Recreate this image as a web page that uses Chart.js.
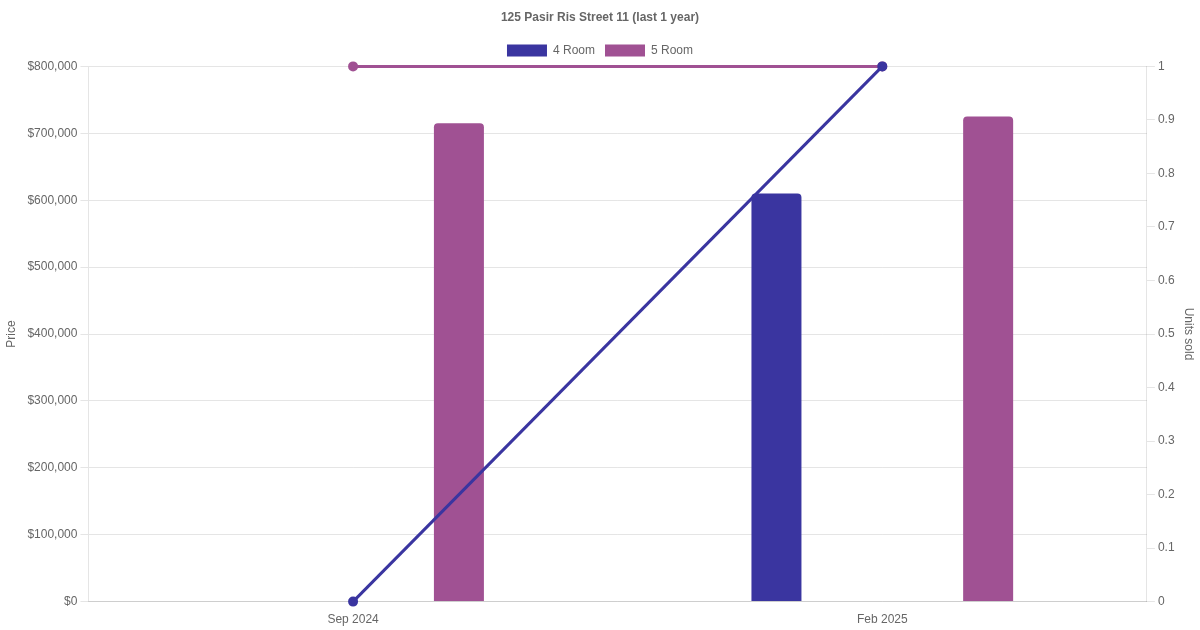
<!DOCTYPE html>
<html>
<head>
<meta charset="utf-8">
<script src="https://cdn.jsdelivr.net/npm/chart.js@4"></script>
<style>
html,body{margin:0;padding:0;background:#fff;}
#wrap{width:1200px;height:630px;}
</style>
</head>
<body>
<div id="wrap"><canvas id="c" width="1200" height="630"></canvas></div>
<script>
const categories = ["Sep 2024", "Feb 2025"];
const price4Room = [null, 610000];
const price5Room = [715000, 725000];
const units4Room = [0, 1];
const units5Room = [1, 1];
const color4 = "#3a35a0";
const color5 = "#a05193";

new Chart(document.getElementById('c'), {
  data: {
    labels: categories,
    datasets: [
      { type: 'line', label: '4 Room units', data: units4Room, yAxisID: 'y1', borderColor: color4, backgroundColor: color4, borderWidth: 3, pointRadius: 3.5, pointHoverRadius: 3.5, clip: false, order: 0 },
      { type: 'line', label: '5 Room units', data: units5Room, yAxisID: 'y1', borderColor: color5, backgroundColor: color5, borderWidth: 3, pointRadius: 3.5, pointHoverRadius: 3.5, clip: false, order: 1 },
      { type: 'bar', label: '4 Room', data: price4Room, yAxisID: 'y', backgroundColor: color4, borderColor: color4, borderRadius: 4, maxBarThickness: 50, order: 2 },
      { type: 'bar', label: '5 Room', data: price5Room, yAxisID: 'y', backgroundColor: color5, borderColor: color5, borderRadius: 4, maxBarThickness: 50, order: 3 }
    ]
  },
  options: {
    responsive: false,
    animation: false,
    plugins: {
      title: { display: true, text: '125 Pasir Ris Street 11 (last 1 year)', color: '#666', font: { size: 12, weight: 'bold' }, padding: { top: 10, bottom: 10 } },
      legend: {
        labels: { color: '#666', font: { size: 12 }, filter: (item) => item.text === '4 Room' || item.text === '5 Room' }
      },
      tooltip: { enabled: false }
    },
    scales: {
      x: { offset: true, grid: { display: false }, ticks: { color: '#666' } },
      y: {
        position: 'left', min: 0, max: 800000,
        ticks: { stepSize: 100000, color: '#666', callback: v => '$' + v.toLocaleString('en-US') },
        title: { display: true, text: 'Price', color: '#666' },
        afterFit: s => { s.width += 2; }
      },
      y1: {
        position: 'right', min: 0, max: 1,
        ticks: { stepSize: 0.1, color: '#666', callback: v => String(Math.round(v * 10) / 10) },
        grid: { drawOnChartArea: false },
        title: { display: true, text: 'Units sold', color: '#666' }
      }
    }
  }
});
</script>
</body>
</html>
